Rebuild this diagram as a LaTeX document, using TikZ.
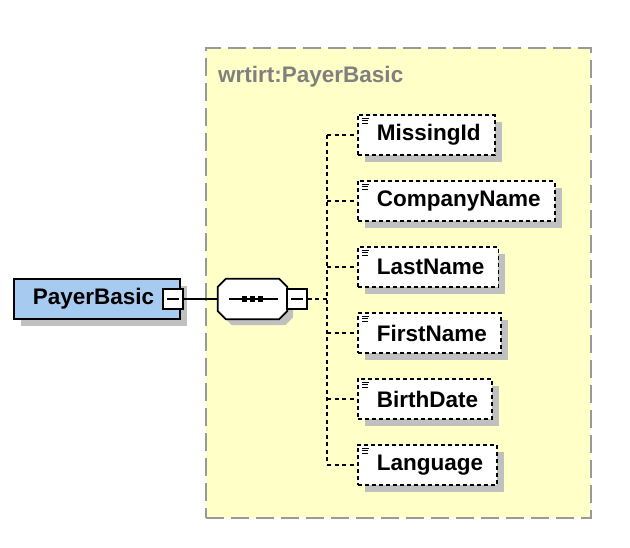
\documentclass[tikz,border=0pt]{standalone}
\usepackage{fontspec}
\setmainfont{Liberation Sans}
\usetikzlibrary{shadows}
\definecolor{ylw}{HTML}{FFFFC8}
\definecolor{shgray}{HTML}{C0C0C0}
\definecolor{lblgray}{HTML}{808080}
\definecolor{ctgray}{HTML}{999999}
\definecolor{payblue}{HTML}{A6CAF0}
\tikzset{
  bigfont/.style={font=\fontsize{22.5}{27}\selectfont\bfseries},
  shad/.style={drop shadow={shadow xshift=7pt,shadow yshift=-7pt,fill=shgray,opacity=1}},
  container/.style={draw=ctgray,fill=ylw,line width=2pt,dash pattern=on 18pt off 7pt,inner sep=0pt},
  payerbox/.style={draw=black,fill=payblue,line width=1.8pt,inner xsep=0pt,minimum height=40pt,bigfont,shad},
  minusbox/.style={draw=black,fill=white,line width=1.8pt,minimum size=20pt,inner sep=0pt},
  seqanchor/.style={minimum width=69pt,minimum height=40pt,inner sep=0pt},
  elbox/.style={draw=black,fill=white,line width=1.8pt,dash pattern=on 4pt off 3pt,inner xsep=0pt,minimum height=40pt,bigfont,shad,anchor=west},
  dashconn/.style={draw=black,line width=1.8pt,dash pattern=on 4pt off 3.5pt},
  solidconn/.style={draw=black,line width=1.8pt},
  icon/.style={draw=black,line width=1pt}
}
\newcommand\octpath[3]{%
  ([xshift=8pt+#2,yshift=#3]#1.north west) -- ([xshift=-8pt+#2,yshift=#3]#1.north east) --
  ([xshift=#2,yshift=-8pt+#3]#1.north east) -- ([xshift=#2,yshift=8pt+#3]#1.south east) --
  ([xshift=-8pt+#2,yshift=#3]#1.south east) -- ([xshift=8pt+#2,yshift=#3]#1.south west) --
  ([xshift=#2,yshift=8pt+#3]#1.south west) -- ([xshift=#2,yshift=-8pt+#3]#1.north west) -- cycle}
\begin{document}
\begin{tikzpicture}[x=1pt,y=-1pt]
\useasboundingbox (0,0) rectangle (630,548);
% container
\node[container,minimum width=385pt,minimum height=470pt,anchor=north west] (cont) at (205,47) {};
\node[bigfont,text=lblgray,anchor=west,inner sep=0pt] (lbl) at (218,77) {wrtirt:PayerBasic};
% root element
\node[payerbox,anchor=west] (payer) at (13,299) {\hspace*{19pt}PayerBasic\hspace*{26pt}};
\node[minusbox] (pm) at (173,299) {};
\draw[solidconn] ([xshift=-6pt]pm.center) -- ([xshift=6pt]pm.center);
% sequence
\node[seqanchor] (seq) at (252.5,299) {};
\fill[shgray] \octpath{seq}{6pt}{-6pt};
\draw[solidconn,fill=white,line join=miter] \octpath{seq}{0pt}{0pt};
\draw[solidconn] ([xshift=11pt]seq.west) -- ([xshift=-9pt]seq.east);
\foreach \dx in {-8,0,8} \fill[black] ([xshift=\dx pt]seq.center) +(-2.8,-2.8) rectangle +(2.8,2.8);
\node[minusbox] (sm) at (297,299) {};
\draw[solidconn] ([xshift=-6pt]sm.center) -- ([xshift=6pt]sm.center);
\draw[solidconn] (pm.east) -- (seq.west);
% children
\node[elbox] (e1) at (357,135) {\hspace*{19pt}MissingId\hspace*{14pt}};
\node[elbox] (e2) at (357,201) {\hspace*{19pt}CompanyName\hspace*{14pt}};
\node[elbox] (e3) at (357,267) {\hspace*{19pt}LastName\hspace*{14pt}};
\node[elbox] (e4) at (357,333) {\hspace*{19pt}FirstName\hspace*{14pt}};
\node[elbox] (e5) at (357,399) {\hspace*{19pt}BirthDate\hspace*{14pt}};
\node[elbox] (e6) at (357,465) {\hspace*{19pt}Language\hspace*{14pt}};
\foreach \e in {e1,e2,e3,e4,e5,e6} {
  \draw[icon] ([xshift=5pt,yshift=-4pt]\e.north west) -- +(7,0);
  \draw[icon] ([xshift=5pt,yshift=-6.5pt]\e.north west) -- +(6,0);
  \draw[icon] ([xshift=5pt,yshift=-9pt]\e.north west) -- +(6,0);
}
% connectors
\coordinate (tr) at (327,299);
\draw[dashconn] (sm.east) -- (tr);
\draw[dashconn] (tr |- e1.west) -- (tr |- e6.west);
\foreach \e in {e1,e2,e3,e4,e5,e6} \draw[dashconn] (tr |- \e.west) -- (\e.west);
\end{tikzpicture}
\end{document}
